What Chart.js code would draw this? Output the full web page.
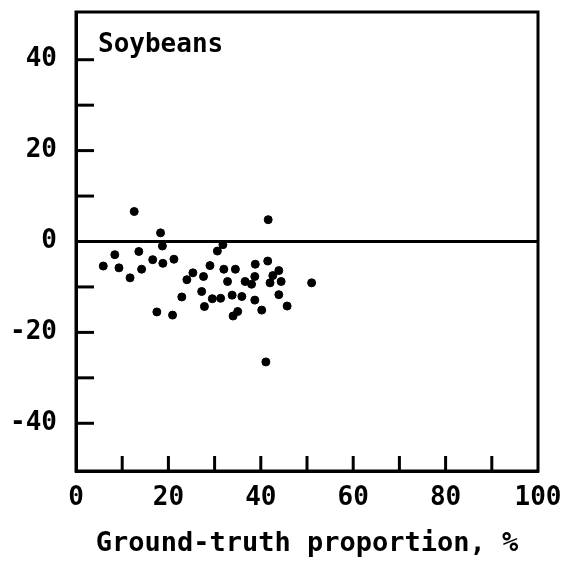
<!DOCTYPE html>
<html>
<head>
<meta charset="utf-8">
<script src="https://cdn.jsdelivr.net/npm/chart.js@4.4.1/dist/chart.umd.min.js"></script>
<style>
  html, body { margin: 0; padding: 0; background: #fff; }
  #wrap { width: 578px; height: 566px; }
</style>
</head>
<body>
<div id="wrap"><canvas id="c" width="578" height="566"></canvas></div>
<script>
// Data
const groundTruth = [12.6, 41.6, 18.3, 18.7, 31.8, 30.6, 8.4, 13.6, 5.9, 9.3, 11.7, 14.2, 16.6, 18.8, 21.2, 17.5, 20.9, 22.9, 24.0, 25.3, 27.2, 27.6, 27.8, 29.0, 29.5, 31.3, 32.0, 32.8, 33.8, 34.5, 34.0, 35.0, 35.9, 36.6, 38.0, 38.7, 38.8, 38.7, 40.2, 41.5, 41.1, 42.0, 42.6, 43.9, 44.4, 43.9, 45.7, 51.0];
const errorValues = [6.6, 4.8, 1.9, -1.0, -0.7, -2.1, -2.9, -2.2, -5.4, -5.8, -8.0, -6.1, -4.0, -4.8, -3.9, -15.5, -16.2, -12.2, -8.4, -6.9, -11.0, -7.7, -14.3, -5.3, -12.6, -12.5, -6.1, -8.8, -11.8, -6.1, -16.4, -15.4, -12.1, -8.8, -9.4, -7.7, -5.0, -12.9, -15.1, -4.3, -26.5, -9.1, -7.5, -6.4, -8.8, -11.7, -14.2, -9.1];
const xTickLabels = [0, 20, 40, 60, 80, 100];
const yTickLabels = [-40, -20, 0, 20, 40];
const yMarkTicks = [-40, -30, -20, -10, 10, 20, 30, 40];
const panelLabel = "Soybeans";
const xTitle = "Ground-truth proportion, %";

const points = groundTruth.map((x, i) => ({ x: x, y: errorValues[i] }));
const FONT = "'DejaVu Sans Mono', monospace";

function noPad(s) { s.paddingLeft = 0; s.paddingRight = 0; s.paddingTop = 0; s.paddingBottom = 0; }

const framePlugin = {
  id: 'frame',
  afterDatasetsDraw(chart) {
    const { ctx, chartArea: a, scales } = chart;
    ctx.save();
    ctx.strokeStyle = '#000';
    ctx.lineWidth = 3;
    ctx.strokeRect(a.left, a.top, a.right - a.left, a.bottom - a.top);
    // inward tick marks
    scales.y.ticks.forEach(t => {
      if (!yMarkTicks.includes(t.value)) return;
      const py = scales.y.getPixelForValue(t.value);
      ctx.beginPath(); ctx.moveTo(a.left, py); ctx.lineTo(a.left + 18, py); ctx.stroke();
    });
    scales.x.ticks.forEach(t => {
      if (t.value <= scales.x.min || t.value >= scales.x.max) return;
      const px = scales.x.getPixelForValue(t.value);
      ctx.beginPath(); ctx.moveTo(px, a.bottom); ctx.lineTo(px, a.bottom - 15); ctx.stroke();
    });
    // panel label
    ctx.fillStyle = '#000';
    ctx.font = "bold 26px " + FONT;
    ctx.textBaseline = 'alphabetic';
    ctx.textAlign = 'left';
    ctx.fillText(panelLabel, a.left + 22, a.top + 40);
    ctx.restore();
  }
};

new Chart(document.getElementById('c'), {
  type: 'scatter',
  data: {
    datasets: [{
      data: points,
      backgroundColor: '#000',
      borderColor: '#000',
      pointRadius: 4,
      pointHoverRadius: 4
    }]
  },
  options: {
    responsive: false,
    animation: false,
    events: [],
    layout: { padding: { top: 12, right: 40, left: 0, bottom: 0 } },
    plugins: { legend: { display: false }, tooltip: { enabled: false } },
    scales: {
      x: {
        type: 'linear', min: 0, max: 100,
        afterFit(s) { s.height = 95; noPad(s); },
        ticks: {
          stepSize: 10,
          padding: 12,
          color: '#000',
          font: { family: FONT, size: 26, weight: 'bold' },
          maxRotation: 0,
          autoSkip: false,
          callback: v => xTickLabels.includes(v) ? String(v) : ''
        },
        grid: { display: false, drawTicks: false },
        border: { display: true, color: '#000', width: 3 },
        title: {
          display: true, text: xTitle, color: '#000',
          font: { family: FONT, size: 27, weight: 'bold' },
          padding: { top: 0, bottom: 6 }
        }
      },
      y: {
        type: 'linear', min: -50.5, max: 50.5,
        afterFit(s) { s.width = 76; noPad(s); },
        afterBuildTicks(s) {
          s.ticks = [-50, -40, -30, -20, -10, 0, 10, 20, 30, 40, 50].map(v => ({ value: v }));
        },
        ticks: {
          padding: 19,
          color: '#000',
          font: { family: FONT, size: 26, weight: 'bold' },
          autoSkip: false,
          callback: v => yTickLabels.includes(v) ? String(v) : ''
        },
        grid: {
          drawTicks: false,
          color: c => (c.tick && c.tick.value === 0) ? '#000' : 'rgba(0,0,0,0)',
          lineWidth: c => (c.tick && c.tick.value === 0) ? 3 : 0
        },
        border: { display: true, color: '#000', width: 3 }
      }
    }
  },
  plugins: [framePlugin]
});
</script>
</body>
</html>
